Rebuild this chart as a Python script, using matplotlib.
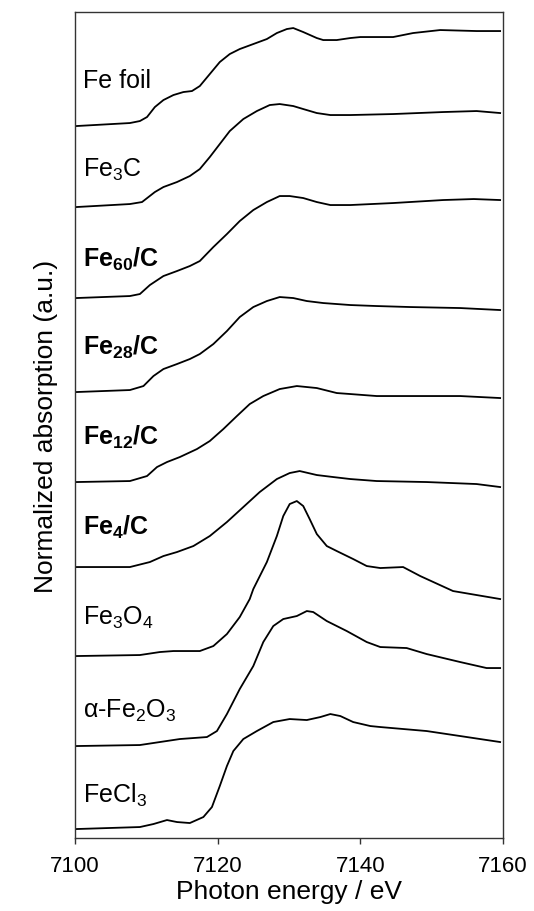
import matplotlib
matplotlib.use('Agg')
import matplotlib.pyplot as plt

plt.rcParams['font.family'] = ['Liberation Sans', 'DejaVu Sans']
plt.rcParams['mathtext.fontset'] = 'custom'
plt.rcParams['mathtext.rm'] = 'Liberation Sans'
plt.rcParams['mathtext.it'] = 'Liberation Sans'
plt.rcParams['mathtext.bf'] = 'Liberation Sans:bold'

# stacked normalized XANES spectra (values as displayed, offsets included)
fe_foil_E = [7100.2, 7107.7, 7109.1, 7110.1, 7111.2, 7112.4, 7113.8, 7115.2, 7116.4, 7117.5,
             7118.9, 7120.3, 7121.7, 7123.1, 7125.0, 7126.9, 7128.3, 7129.7, 7130.6, 7132.0,
             7133.9, 7134.8, 7136.7, 7138.6, 7140.0, 7144.6, 7147.4, 7151.2, 7156.3, 7159.6]
fe_foil_y = [7.12, 7.15, 7.17, 7.21, 7.31, 7.38, 7.43, 7.46, 7.47, 7.52,
             7.64, 7.76, 7.84, 7.89, 7.94, 7.99, 8.05, 8.09, 8.10, 8.06,
             8.00, 7.98, 7.98, 8.00, 8.01, 8.01, 8.05, 8.08, 8.07, 8.07]

fe3c_E = [7100.2, 7107.7, 7109.4, 7110.3, 7111.2, 7112.4, 7114.3, 7116.1, 7117.5, 7118.9,
          7120.3, 7121.7, 7123.6, 7125.5, 7127.3, 7128.7, 7130.6, 7132.0, 7133.9, 7135.8,
          7138.6, 7144.6, 7151.6, 7156.3, 7159.6]
fe3c_y = [6.31, 6.34, 6.36, 6.41, 6.46, 6.51, 6.56, 6.62, 6.69, 6.81,
          6.94, 7.07, 7.19, 7.27, 7.33, 7.34, 7.32, 7.29, 7.25, 7.23,
          7.23, 7.24, 7.26, 7.27, 7.25]

fe60_E = [7100.2, 7107.7, 7109.1, 7110.5, 7112.4, 7114.3, 7116.1, 7117.5, 7119.4, 7121.3,
          7123.1, 7125.0, 7126.9, 7128.7, 7130.1, 7132.0, 7133.9, 7135.8, 7138.6, 7144.6,
          7151.6, 7155.9, 7159.6]
fe60_y = [5.40, 5.42, 5.44, 5.53, 5.62, 5.67, 5.72, 5.77, 5.91, 6.04,
          6.17, 6.28, 6.36, 6.42, 6.42, 6.40, 6.36, 6.33, 6.33, 6.35,
          6.38, 6.39, 6.38]

fe28_E = [7100.2, 7107.7, 7109.6, 7111.0, 7112.4, 7114.3, 7116.1, 7117.5, 7119.4, 7121.3,
          7123.1, 7125.0, 7126.9, 7128.7, 7130.6, 7132.5, 7134.8, 7138.6, 7142.3, 7147.0,
          7154.0, 7159.6]
fe28_y = [4.46, 4.48, 4.52, 4.62, 4.69, 4.74, 4.79, 4.84, 4.94, 5.07,
          5.21, 5.31, 5.37, 5.41, 5.40, 5.37, 5.35, 5.33, 5.32, 5.31,
          5.30, 5.28]

fe12_E = [7100.2, 7107.7, 7110.1, 7111.5, 7112.9, 7114.7, 7117.1, 7118.9, 7120.8, 7122.7,
          7124.5, 7126.4, 7128.7, 7131.1, 7133.9, 7136.7, 7138.6, 7142.3, 7149.3, 7154.0,
          7159.6]
fe12_y = [3.56, 3.57, 3.62, 3.71, 3.76, 3.81, 3.89, 3.97, 4.09, 4.22,
          4.34, 4.42, 4.49, 4.52, 4.50, 4.45, 4.44, 4.42, 4.42, 4.42,
          4.40]

fe4_E = [7100.2, 7107.7, 7110.5, 7112.4, 7114.3, 7116.6, 7118.9, 7121.3, 7123.6, 7125.9,
         7128.3, 7130.1, 7131.5, 7133.9, 7136.2, 7138.6, 7142.3, 7149.3, 7156.3, 7159.6]
fe4_y = [2.71, 2.71, 2.76, 2.82, 2.86, 2.92, 3.02, 3.16, 3.31, 3.46,
         3.59, 3.65, 3.67, 3.63, 3.61, 3.59, 3.57, 3.56, 3.54, 3.51]

fe3o4_E = [7100.2, 7109.1, 7111.9, 7113.8, 7117.5, 7119.4, 7121.3, 7123.1, 7124.5, 7125.0,
           7126.9, 7128.3, 7129.2, 7130.1, 7131.1, 7132.0, 7132.9, 7133.9, 7135.3, 7136.7,
           7139.0, 7140.9, 7142.8, 7146.0, 7148.4, 7153.0, 7159.6]
fe3o4_y = [1.82, 1.83, 1.86, 1.87, 1.87, 1.92, 2.04, 2.21, 2.39, 2.49,
           2.76, 3.02, 3.22, 3.34, 3.37, 3.32, 3.19, 3.04, 2.92, 2.87,
           2.79, 2.72, 2.70, 2.71, 2.62, 2.47, 2.39]

fe2o3_E = [7100.2, 7109.1, 7111.9, 7114.7, 7118.5, 7119.9, 7121.3, 7123.1, 7125.0, 7126.4,
           7127.8, 7129.2, 7131.1, 7132.5, 7133.4, 7135.3, 7138.1, 7140.9, 7142.8, 7146.5,
           7149.3, 7154.0, 7157.7, 7159.6]
fe2o3_y = [0.92, 0.93, 0.96, 0.99, 1.01, 1.07, 1.24, 1.49, 1.72, 1.96,
           2.12, 2.19, 2.22, 2.27, 2.26, 2.17, 2.07, 1.96, 1.91, 1.90,
           1.84, 1.76, 1.70, 1.70]

fecl3_E = [7100.2, 7109.1, 7111.0, 7112.9, 7114.3, 7116.1, 7118.0, 7119.2, 7120.3, 7121.3,
           7122.2, 7123.6, 7125.5, 7127.8, 7130.1, 7132.5, 7134.4, 7135.8, 7137.2, 7139.0,
           7141.4, 7142.8, 7149.3, 7154.0, 7159.6]
fecl3_y = [0.09, 0.11, 0.14, 0.18, 0.16, 0.15, 0.21, 0.31, 0.52, 0.72,
           0.87, 0.99, 1.07, 1.16, 1.19, 1.18, 1.21, 1.24, 1.22, 1.16,
           1.12, 1.11, 1.07, 1.02, 0.96]

labels = ['Fe foil', 'Fe$_3$C', r'$\mathbf{Fe_{60}/C}$', r'$\mathbf{Fe_{28}/C}$',
          r'$\mathbf{Fe_{12}/C}$', r'$\mathbf{Fe_{4}/C}$', 'Fe$_3$O$_4$',
          'α-Fe$_2$O$_3$', 'FeCl$_3$']
label_y = [7.51, 6.62, 5.72, 4.84, 3.94, 3.04, 2.14, 1.21, 0.36]

curves = [(fe_foil_E, fe_foil_y), (fe3c_E, fe3c_y), (fe60_E, fe60_y), (fe28_E, fe28_y),
          (fe12_E, fe12_y), (fe4_E, fe4_y), (fe3o4_E, fe3o4_y), (fe2o3_E, fe2o3_y),
          (fecl3_E, fecl3_y)]

fig = plt.figure(figsize=(5.34, 9.12), dpi=100)
ax = fig.add_axes([0.1404, 0.080, 0.8015, 0.9057])

for (E, y), lab, ly in zip(curves, labels, label_y):
    ax.plot(E, y, color='black', linewidth=1.3, solid_joinstyle='round')
    ax.text(7101.1, ly, lab, fontsize=18, va='baseline', ha='left')

ax.set_xlim(7100, 7160)
ax.set_ylim(0, 8.26)
ax.set_xticks([7100, 7120, 7140, 7160])
ax.set_yticks([])
ax.tick_params(axis='x', direction='out', length=4.5, width=1, labelsize=16, pad=8, color='#333333')
for s in ax.spines.values():
    s.set_color('#333333')
    s.set_linewidth(1)

ax.set_xlabel('Photon energy / eV', fontsize=19, labelpad=2)
ax.set_ylabel('Normalized absorption (a.u.)', fontsize=19, labelpad=12)

fig.savefig('out.png', dpi=100)
